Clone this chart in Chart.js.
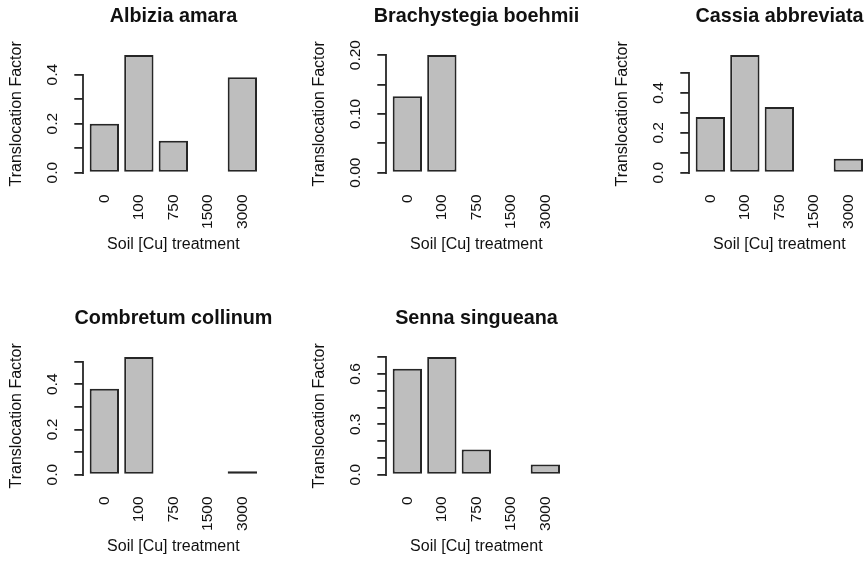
<!DOCTYPE html>
<html>
<head>
<meta charset="utf-8">
<title>Translocation Factor by Soil [Cu] treatment</title>
<script src="https://cdn.jsdelivr.net/npm/chart.js@4.4.1/dist/chart.umd.min.js"></script>
<style>
  html, body { margin: 0; padding: 0; background: #fff; overflow: hidden; }
  #wrap { position: relative; width: 868px; height: 561px; overflow: hidden; }
  #wrap canvas { position: absolute; }
</style>
</head>
<body>
<div id="wrap"></div>
<script>
// soil Cu treatment levels, same for every panel
var treatments = ["0", "100", "750", "1500", "3000"];

// panel titles in drawing order
var species = ["Albizia amara", "Brachystegia boehmii", "Cassia abbreviata", "Combretum collinum", "Senna singueana"];

// translocation factor per treatment (null = no bar)
var albizia = [0.20, 0.48, 0.13, null, 0.39];
var brachystegia = [0.13, 0.20, null, null, null];
var cassia = [0.28, 0.59, 0.33, null, 0.07];
var combretum = [0.38, 0.52, null, null, 0.015];
var senna = [0.63, 0.70, 0.15, null, 0.06];

// y tick positions and the labels kept on them
var albiziaTicks = [0, 0.1, 0.2, 0.3, 0.4];
var albiziaLabels = ["0.0", "", "0.2", "", "0.4"];
var brachystegiaTicks = [0, 0.05, 0.10, 0.15, 0.20];
var brachystegiaLabels = ["0.00", "", "0.10", "", "0.20"];
var cassiaTicks = [0, 0.1, 0.2, 0.3, 0.4, 0.5];
var cassiaLabels = ["0.0", "", "0.2", "", "0.4", ""];
var combretumTicks = [0, 0.1, 0.2, 0.3, 0.4, 0.5];
var combretumLabels = ["0.0", "", "0.2", "", "0.4", ""];
var sennaTicks = [0, 0.1, 0.2, 0.3, 0.4, 0.5, 0.6, 0.7];
var sennaLabels = ["0.0", "", "", "0.3", "", "", "0.6", ""];

var panels = [
	{ name: species[0], values: albizia, ticks: albiziaTicks, labels: albiziaLabels },
	{ name: species[1], values: brachystegia, ticks: brachystegiaTicks, labels: brachystegiaLabels },
	{ name: species[2], values: cassia, ticks: cassiaTicks, labels: cassiaLabels },
	{ name: species[3], values: combretum, ticks: combretumTicks, labels: combretumLabels },
	{ name: species[4], values: senna, ticks: sennaTicks, labels: sennaLabels }
];

// look of an R base graphics figure
var family = "Liberation Sans, Arial, Helvetica, sans-serif";
var ink = "#111";
var lineInk = "#262626";
var tickSize = 15.5;

// each figure region: canvas size and plot region inside it
var W = 347, H = 302;
var plotLeft = 83.3, plotRight = 263.4, plotTop = 50.4, plotBottom = 177.4;
var colStep = 303, rowStep = 302;

// width of a tick label, so rotated labels sit at the same distance
var meas = document.createElement("canvas").getContext("2d");
function labelWidth(list) {
	meas.font = tickSize + "px " + family;
	var w = 0;
	list.forEach(function(s) { w = Math.max(w, meas.measureText(s).width); });
	return w;
}

// R draws the y axis line only from the first to the last tick
var axisLine = {
	id: "axisLine",
	afterDraw: function(chart) {
		var y = chart.scales.y;
		var t = y.ticks;
		var ctx = chart.ctx;
		var x = Math.round(y.right);
		ctx.save();
		ctx.strokeStyle = lineInk;
		ctx.lineWidth = 1.8;
		ctx.lineCap = "square";
		ctx.beginPath();
		ctx.moveTo(x, Math.round(y.getPixelForValue(t[0].value)));
		ctx.lineTo(x, Math.round(y.getPixelForValue(t[t.length - 1].value)));
		ctx.stroke();
		ctx.restore();
	}
};

var wrap = document.getElementById("wrap");

panels.forEach(function(p, i) {
	var canvas = document.createElement("canvas");
	canvas.width = W;
	canvas.height = H;
	canvas.style.left = (i % 3) * colStep + "px";
	canvas.style.top = Math.floor(i / 3) * rowStep + "px";
	wrap.appendChild(canvas);

	var top = Math.max.apply(null, p.values.filter(function(v) { return v !== null; }));
	var labW = labelWidth(p.labels);

	new Chart(canvas, {
		type: "bar",
		data: {
			datasets: [{
				data: p.values.map(function(v, k) { return { x: k, y: v }; }),
				xAxisID: "x",
				yAxisID: "y",
				backgroundColor: "#bebebe",
				borderColor: lineInk,
				borderWidth: 2,
				borderSkipped: false,
				barPercentage: 0.85,
				categoryPercentage: 1
			}]
		},
		options: {
			responsive: false,
			animation: false,
			devicePixelRatio: 1,
			events: [],
			layout: { padding: 0 },
			plugins: {
				legend: { display: false },
				tooltip: { enabled: false },
				title: {
					display: true,
					text: p.name,
					color: ink,
					font: { family: family, size: 19.8, weight: "bold", lineHeight: 1.2 },
					padding: { top: 4.6, bottom: plotTop - 4.6 - 19.8 * 1.2 }
				}
			},
			scales: {
				x: {
					type: "linear",
					position: "bottom",
					offset: false,
					min: -0.61,
					max: treatments.length - 1 + 0.61,
					grid: { display: false, drawTicks: false, tickLength: 0 },
					border: { display: false },
					afterBuildTicks: function(s) {
						s.ticks = treatments.map(function(t, k) { return { value: k }; });
					},
					ticks: {
						autoSkip: false,
						minRotation: 90,
						maxRotation: 90,
						padding: 17,
						color: ink,
						font: { family: family, size: tickSize },
						callback: function(v) { return treatments[v]; }
					},
					title: {
						display: true,
						text: "Soil [Cu] treatment",
						color: ink,
						font: { family: family, size: 16, lineHeight: 1.2 },
						padding: { top: 0, bottom: 47.4 }
					},
					afterFit: function(s) { s.height = H - plotBottom; }
				},
				y: {
					type: "linear",
					position: "left",
					min: -0.04 * top,
					max: 1.04 * top,
					grid: { display: true, drawOnChartArea: false, drawTicks: true, tickLength: 9, color: lineInk, lineWidth: 1.8 },
					border: { display: false },
					afterBuildTicks: function(s) {
						s.ticks = p.ticks.map(function(v) { return { value: v }; });
					},
					ticks: {
						autoSkip: false,
						minRotation: 90,
						maxRotation: 90,
						crossAlign: "center",
						padding: 21.8 - labW / 2,
						color: ink,
						font: { family: family, size: tickSize },
						callback: function(v, k) { return p.labels[k]; }
					},
					title: {
						display: true,
						text: "Translocation Factor",
						color: ink,
						font: { family: family, size: 16, lineHeight: 1.2 },
						padding: { top: 6.7, bottom: 0 }
					},
					afterFit: function(s) { s.width = plotLeft; }
				},
				// empty right box so the title centres over the plot region
				pad: {
					type: "linear",
					position: "right",
					grid: { display: false, drawTicks: false },
					border: { display: false },
					ticks: { display: false },
					afterFit: function(s) { s.width = W - plotRight; }
				}
			}
		},
		plugins: [axisLine]
	});
});
</script>
</body>
</html>
